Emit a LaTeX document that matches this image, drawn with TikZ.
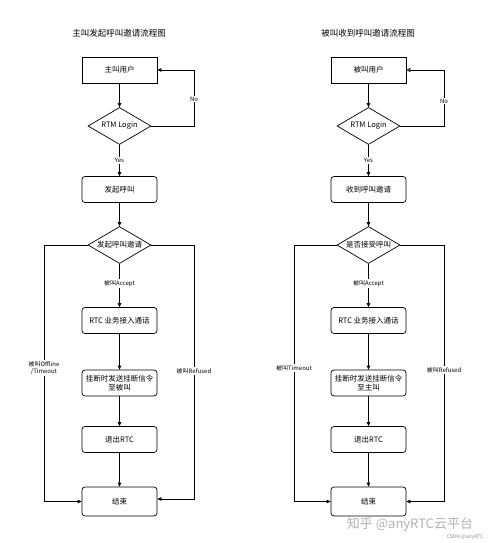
\documentclass[tikz,border=0pt]{standalone}
\usepackage{fontspec}
\setmainfont{Noto Sans CJK SC}
\usetikzlibrary{shapes.geometric,arrows.meta,calc}
\begin{document}
\begin{tikzpicture}[x=1pt,y=-1pt,
  every node/.style={font=\fontsize{7.5}{9}\selectfont},
  sq/.style={draw, line width=0.7pt, minimum width=75pt, minimum height=26pt, inner sep=1pt, align=center},
  rbox/.style={sq, rounded corners=3pt},
  dia/.style={draw, line width=0.7pt, diamond, aspect=1.7, inner sep=0pt, minimum width=63pt, minimum height=37pt},
  ttl/.style={font=\fontsize{8.5}{10}\selectfont},
  lbl/.style={fill=white, inner sep=1pt, font=\fontsize{6}{7}\selectfont, align=center},
  arr/.style={line width=0.7pt, -{Triangle[length=4pt,width=3.5pt]}},
  oarr/.style={line width=0.7pt, -{Triangle[open,length=4pt,width=4pt]}}]
\useasboundingbox (0,0) rectangle (490,543);

% ---------- left ----------
\node[ttl] (LT) at (119,33) {主叫发起呼叫邀请流程图};
\node[sq]   (L1) at (119.5,70)  {主叫用户};
\node[dia]  (L2) at (119.5,126) {RTM Login};
\node[rbox] (L3) at (119.5,189.5) {发起呼叫};
\node[dia]  (L4) at (119.5,245) {发起呼叫邀请};
\node[rbox] (L5) at (119.5,320.5) {RTC 业务接入通话};
\node[rbox] (L6) at (119.5,383) {挂断时发送挂断信令\\至被叫};
\node[rbox] (L7) at (119.5,439.5) {退出RTC};
\node[rbox, minimum height=29pt] (L8) at (119.5,501.5) {结束};
\coordinate (LN) at (194,126);
\coordinate (LA) at (44,501.5);
\coordinate (LB) at (194,499);

\draw[arr] (L1) -- (L2);
\draw[arr] (L2) -- node[lbl, pos=0.5] {Yes} (L3);
\draw[arr] (L2.east) -- (LN) |- (L1.east);
\draw[arr] (L3) -- (L4);
\draw[arr] (L4) -- node[lbl, pos=0.45] {被叫Accept} (L5);
\draw[arr] (L5) -- (L6);
\draw[arr] (L6) -- (L7);
\draw[arr] (L7) -- (L8);
\draw[arr] (L4.west) -| (LA) -- (L8.west);
\draw[arr] (L4.east) -| (LB) -- (LB -| L8.east);
\node[lbl] (LNo) at (194,99) {No};
\node[lbl] (LOff) at (44,368) {被叫Offline\\/Timeout};
\node[lbl] (LRef) at (194,371) {被叫Refused};

% ---------- right ----------
\node[ttl] (RT) at (368,33) {被叫收到呼叫邀请流程图};
\node[sq]   (R1) at (368.5,70)  {被叫用户};
\node[dia]  (R2) at (368.5,126) {RTM Login};
\node[rbox] (R3) at (368.5,189.5) {收到呼叫邀请};
\node[dia]  (R4) at (368.5,245) {是否接受呼叫};
\node[rbox] (R5) at (368.5,320.5) {RTC 业务接入通话};
\node[rbox] (R6) at (368.5,383) {挂断时发送挂断信令\\至主叫};
\node[rbox] (R7) at (368.5,439.5) {退出RTC};
\node[rbox, minimum height=29pt] (R8) at (368.5,501.5) {结束};
\coordinate (RN) at (444,126);
\coordinate (RA) at (294,501.5);
\coordinate (RB) at (444,501.5);

\draw[arr] (R1) -- (R2);
\draw[arr] (R2) -- node[lbl, pos=0.5] {Yes} (R3);
\draw[oarr] (R2.east) -- (RN) |- (R1.east);
\draw[arr] (R3) -- (R4);
\draw[arr] (R4) -- node[lbl, pos=0.45] {被叫Accept} (R5);
\draw[arr] (R5) -- (R6);
\draw[arr] (R6) -- (R7);
\draw[arr] (R7) -- (R8);
\draw[arr] (R4.west) -| (RA) -- (R8.west);
\draw[arr] (R4.east) -| (RB) -- (R8.east);
\node[lbl] (RNo) at (444,101) {No};
\node[lbl] (RTo) at (294,368) {被叫Timeout};
\node[lbl] (RRef) at (444,370) {被叫Refused};

% ---------- watermark ----------
\node[text=black!30, font=\fontsize{13}{14}\selectfont] (W1) at (410,525) {知乎 @anyRTC云平台};
\node[text=black!45, font=\fontsize{5}{6}\selectfont, anchor=east] (W2) at (487,537) {CSDN @anyRTC};
\end{tikzpicture}
\end{document}
